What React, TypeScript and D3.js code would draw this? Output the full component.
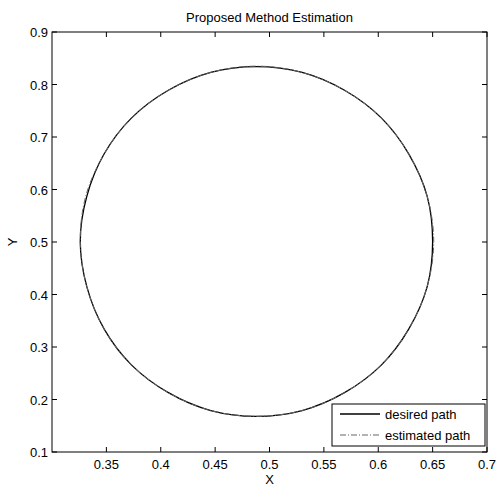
import * as d3 from "d3";

// points (x, y), going counter-clockwise from the right
const desiredX = [0.650, 0.645, 0.628, 0.603, 0.569, 0.530, 0.488, 0.446, 0.407, 0.373, 0.348, 0.332,
  0.326, 0.332, 0.348, 0.373, 0.407, 0.446, 0.488, 0.530, 0.569, 0.603, 0.628, 0.645];
const desiredY = [0.501, 0.587, 0.668, 0.736, 0.789, 0.823, 0.834, 0.823, 0.789, 0.736, 0.668, 0.587,
  0.501, 0.415, 0.334, 0.266, 0.213, 0.179, 0.168, 0.179, 0.213, 0.266, 0.334, 0.415];
const estimatedX = [0.651, 0.645, 0.628, 0.603, 0.569, 0.530, 0.488, 0.446, 0.407, 0.373, 0.348, 0.331,
  0.326, 0.332, 0.348, 0.373, 0.407, 0.446, 0.488, 0.530, 0.569, 0.603, 0.628, 0.645];
const estimatedY = [0.501, 0.587, 0.668, 0.736, 0.789, 0.823, 0.835, 0.823, 0.789, 0.736, 0.668, 0.587,
  0.500, 0.415, 0.334, 0.266, 0.213, 0.179, 0.168, 0.179, 0.213, 0.266, 0.334, 0.415];

const xTicks = [0.35, 0.4, 0.45, 0.5, 0.55, 0.6, 0.65, 0.7];
const yTicks = [0.1, 0.2, 0.3, 0.4, 0.5, 0.6, 0.7, 0.8, 0.9];
const legendLabels = ["desired path", "estimated path"];

const width = 497;
const height = 488;
const left = 52;
const right = 487;
const top = 32;
const bottom = 452;
const font = "Arial, 'Liberation Sans', sans-serif";

export default function App() {
  const x = d3.scaleLinear().domain([0.3, 0.7]).range([left, right]);
  const y = d3.scaleLinear().domain([0.1, 0.9]).range([bottom, top]);

  const line = d3
    .line<[number, number]>()
    .x((d) => x(d[0]))
    .y((d) => y(d[1]))
    .curve(d3.curveCatmullRomClosed);

  const desired: [number, number][] = desiredX.map((v, i) => [v, desiredY[i]]);
  const estimated: [number, number][] = estimatedX.map((v, i) => [v, estimatedY[i]]);

  const tick = 5;
  const lx = 332;
  const ly = 404;

  return (
    <svg
      width={width}
      height={height}
      style={{ position: "absolute", left: 0, top: 0, background: "#fff" }}
      fontFamily={font}
    >
      <rect x={0} y={0} width={width} height={height} fill="#fff" />
      <text x={(left + right) / 2} y={22} textAnchor="middle" fontSize={13}>
        Proposed Method Estimation
      </text>

      <path d={line(desired) ?? ""} fill="none" stroke="#000" strokeWidth={1.3} />
      <path d={line(estimated) ?? ""} fill="none" stroke="#666" strokeWidth={1} strokeDasharray="6,2,1,2" />

      {xTicks.map((t) => (
        <g key={"x" + t}>
          <line x1={x(t)} x2={x(t)} y1={bottom} y2={bottom - tick} stroke="#000" />
          <line x1={x(t)} x2={x(t)} y1={top} y2={top + tick} stroke="#000" />
          <text x={x(t)} y={bottom + 17} textAnchor="middle" fontSize={13}>
            {t}
          </text>
        </g>
      ))}
      {yTicks.map((t) => (
        <g key={"y" + t}>
          <line x1={left} x2={left + tick} y1={y(t)} y2={y(t)} stroke="#000" />
          <line x1={right} x2={right - tick} y1={y(t)} y2={y(t)} stroke="#000" />
          <text x={left - 4} y={y(t) + 5} textAnchor="end" fontSize={13}>
            {t}
          </text>
        </g>
      ))}
      <rect x={left} y={top} width={right - left} height={bottom - top} fill="none" stroke="#000" strokeWidth={1} />

      <text x={(left + right) / 2} y={484} textAnchor="middle" fontSize={13}>
        X
      </text>
      <text transform={`translate(17,${(top + bottom) / 2}) rotate(-90)`} textAnchor="middle" fontSize={13}>
        Y
      </text>

      <rect x={lx} y={ly} width={153} height={42} fill="#fff" stroke="#000" strokeWidth={1} />
      <line x1={lx + 8} x2={lx + 48} y1={ly + 10} y2={ly + 10} stroke="#000" strokeWidth={1.3} />
      <line x1={lx + 8} x2={lx + 48} y1={ly + 31} y2={ly + 31} stroke="#666" strokeDasharray="6,2,1,2" />
      {legendLabels.map((s, i) => (
        <text key={s} x={lx + 53} y={ly + 15 + i * 21} fontSize={13}>
          {s}
        </text>
      ))}
    </svg>
  );
}
